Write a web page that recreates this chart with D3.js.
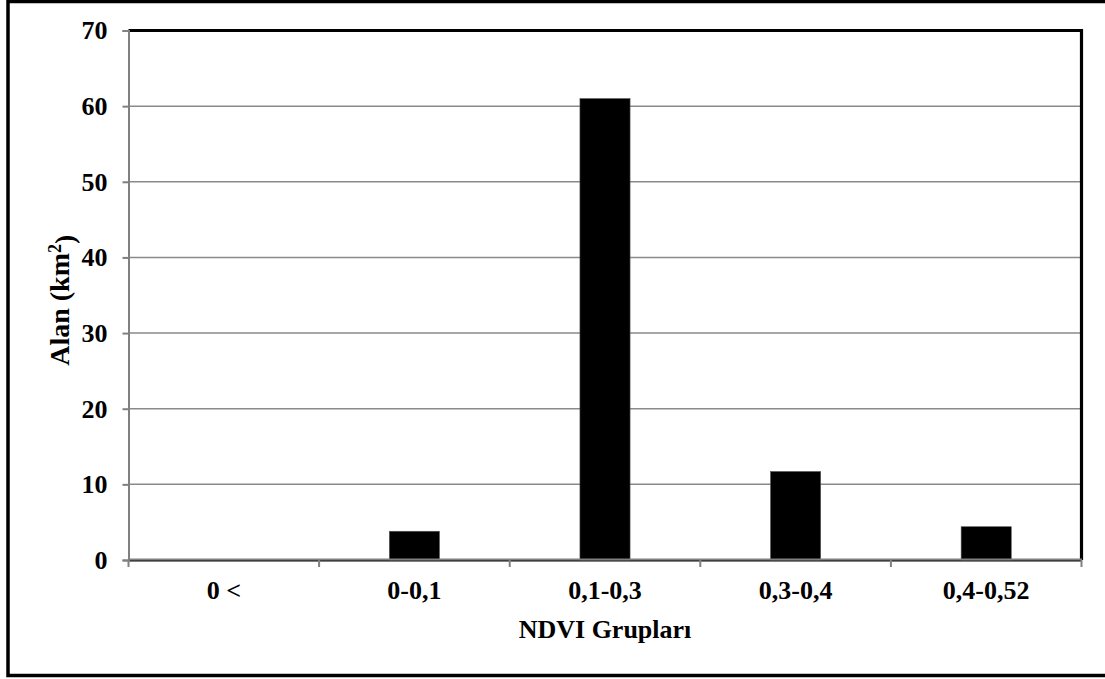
<!DOCTYPE html>
<html>
<head>
<meta charset="utf-8">
<script src="https://cdn.jsdelivr.net/npm/d3@7"></script>
<style>
  html, body { margin: 0; padding: 0; background: #fff; }
  svg { display: block; }
  text { font-family: "Liberation Serif", "Times New Roman", serif; font-weight: bold; fill: #000; }
</style>
</head>
<body>
<svg id="chart" width="1105" height="679"></svg>
<script>
const categories = ["0 <", "0-0,1", "0,1-0,3", "0,3-0,4", "0,4-0,52"];
const values = [0, 3.8, 61, 11.7, 4.4];
const yTicks = [0, 10, 20, 30, 40, 50, 60, 70];
const xTitle = "NDVI Grupları";
const yTitle = "Alan (km";

const svg = d3.select("#chart");
const m = { left: 128.5, right: 1081.5, top: 30.5, bottom: 560 };

// outer frame (right edge cut off in reference)
svg.append("rect")
  .attr("x", 8).attr("y", 1.5)
  .attr("width", 1110).attr("height", 674)
  .attr("fill", "none").attr("stroke", "#000").attr("stroke-width", 3.5);

const x = d3.scaleBand()
  .domain(categories)
  .range([m.left, m.right])
  .paddingInner(0.737)
  .paddingOuter(0.3685);

const xTickScale = d3.scaleBand().domain(categories).range([m.left, m.right]);

const y = d3.scaleLinear().domain([0, 70]).range([m.bottom, m.top]);

// gridlines
svg.append("g")
  .selectAll("line")
  .data(yTicks.filter(d => d > 0 && d < 70))
  .join("line")
  .attr("x1", m.left).attr("x2", m.right)
  .attr("y1", d => y(d)).attr("y2", d => y(d))
  .attr("stroke", "#8a8a8a").attr("stroke-width", 1.5);

// plot border top/right
svg.append("path")
  .attr("d", `M${m.left},${m.top}H${m.right}V${m.bottom}`)
  .attr("fill", "none").attr("stroke", "#000").attr("stroke-width", 3.2);

// bottom dark line
svg.append("line")
  .attr("x1", m.left).attr("x2", m.right)
  .attr("y1", m.bottom + 0.5).attr("y2", m.bottom + 0.5)
  .attr("stroke", "#000").attr("stroke-width", 2);

// bars
svg.append("g")
  .selectAll("rect")
  .data(values)
  .join("rect")
  .attr("x", (d, i) => x(categories[i]))
  .attr("width", x.bandwidth())
  .attr("y", d => y(d))
  .attr("height", d => y(0) - y(d))
  .attr("fill", "#000")
  .attr("stroke", "#555").attr("stroke-width", 0.6);

// y axis
const yAxis = svg.append("g")
  .attr("transform", `translate(${m.left},0)`)
  .call(d3.axisLeft(y).tickValues(yTicks).tickSize(6).tickPadding(15).tickFormat(d3.format("d")));
yAxis.select(".domain").attr("stroke", "#808080").attr("stroke-width", 2);
yAxis.selectAll(".tick line").attr("stroke", "#808080").attr("stroke-width", 2);
yAxis.selectAll(".tick text")
  .style("font-size", "26px").style("font-family", "Liberation Serif").style("font-weight", "bold")
  .attr("fill", "#000");

// x axis
const xAxis = svg.append("g")
  .attr("transform", `translate(0,${m.bottom - 1})`)
  .call(d3.axisBottom(xTickScale).tickSize(0).tickPadding(0).tickFormat(() => ""));
xAxis.select(".domain").attr("stroke", "#808080").attr("stroke-width", 2);
xAxis.selectAll(".tick").remove();

// x ticks at band boundaries
const bounds = categories.map(c => xTickScale(c)).concat([m.right]);
svg.append("g").selectAll("line").data(bounds).join("line")
  .attr("x1", d => d).attr("x2", d => d)
  .attr("y1", m.bottom).attr("y2", m.bottom + 7)
  .attr("stroke", "#808080").attr("stroke-width", 2);

// x labels
svg.append("g").selectAll("text").data(categories).join("text")
  .attr("x", d => xTickScale(d) + xTickScale.bandwidth() / 2)
  .attr("y", 599)
  .attr("text-anchor", "middle")
  .style("font-size", "26px")
  .text(d => d);

// x title
svg.append("text")
  .attr("x", (m.left + m.right) / 2)
  .attr("y", 638)
  .attr("text-anchor", "middle")
  .style("font-size", "26px")
  .text(xTitle);

// y title
const yt = svg.append("text")
  .attr("transform", `translate(69,${(m.top + m.bottom) / 2 + 5}) rotate(-90)`)
  .attr("text-anchor", "middle")
  .style("font-size", "28px");
yt.append("tspan").text(yTitle);
yt.append("tspan").attr("dy", "-0.45em").style("font-size", "18px").text("2");
yt.append("tspan").attr("dy", "0.45em").text(")");
</script>
</body>
</html>
